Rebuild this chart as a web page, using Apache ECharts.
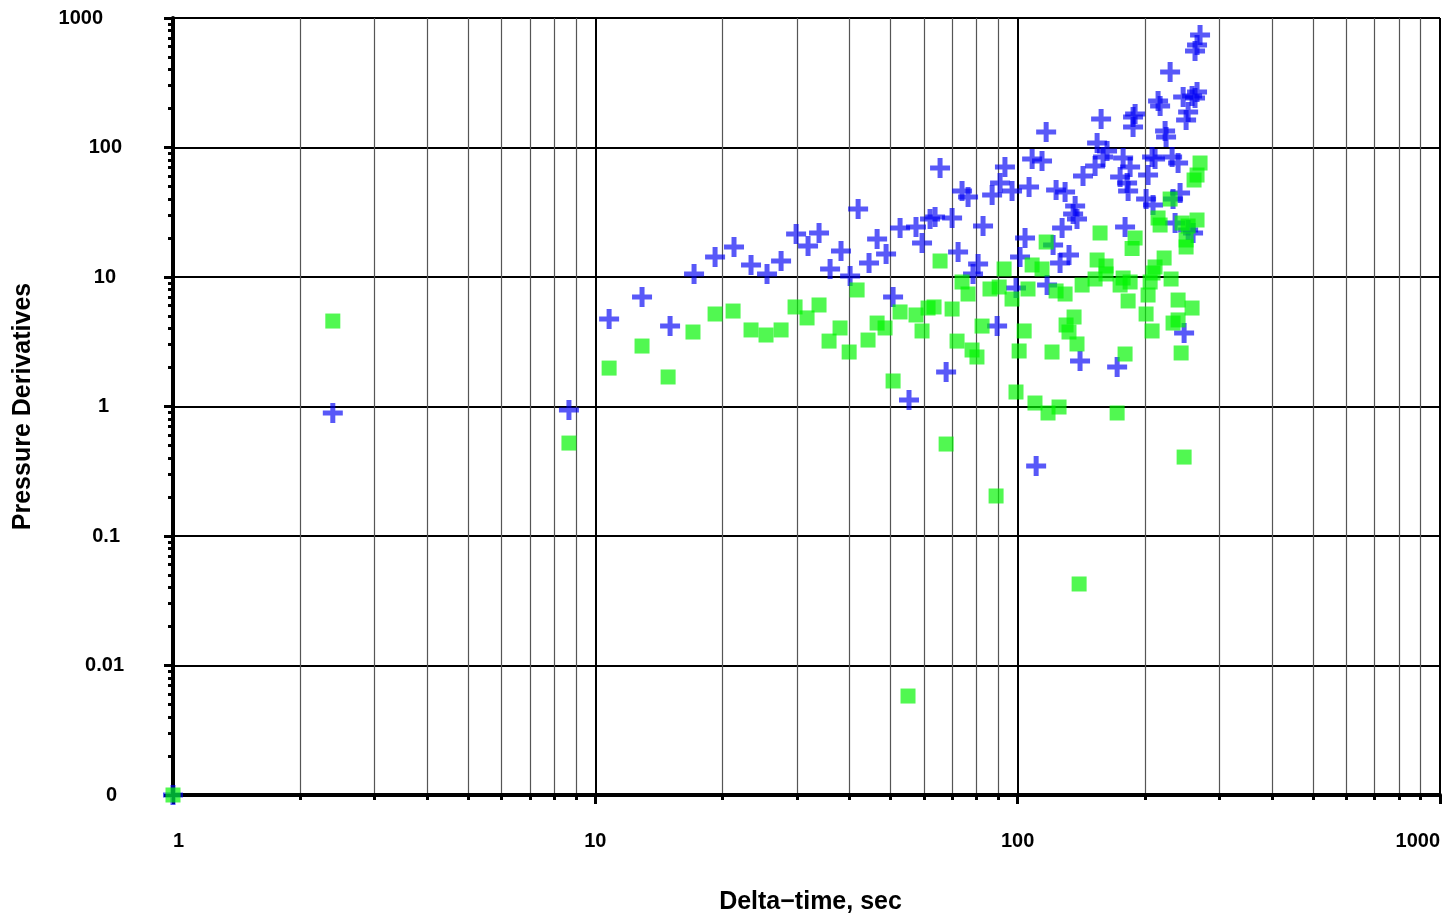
<!DOCTYPE html>
<html><head><meta charset="utf-8">
<script src="https://cdn.jsdelivr.net/npm/echarts@6/dist/echarts.min.js"></script>
<style>html,body{margin:0;padding:0;background:#fff}#c{width:1454px;height:921px}</style>
</head><body><div id="c"></div>
<script>
// ---- data (Delta-time in sec, derivative values) ----
const blueTime = [1,2.39,8.66,10.78,12.9,15.03,17.13,19.21,21.3,23.37,25.5,27.53,29.88,31.89,33.86,38.17,35.96,40.11,41.9,44.47,46.47,48.8,50.7,52.67,57.45,55.3,59.37,62.02,63.74,65.5,67.7,69.94,72.26,73.84,76.3,78.4,80.6,82.8,87.0,89.4,90.85,93.3,96.98,99.1,101.3,104.1,106.4,108.2,114.2,110.6,116.8,117.4,121.3,123.3,126.0,127.4,129.5,132.3,136.8,135.3,138.2,140.5,142.8,152.5,154.2,157.6,159.3,162.8,172,174.8,177.7,179.6,181.6,182.6,184.6,187.6,189.7,187.6,201.4,203.6,208.1,211.5,209.2,215,217.4,223.4,224.6,229.6,232.1,233.3,235.9,239.8,242.4,247.8,246.5,250.5,253.3,253.3,258.8,260.2,263,265.9,263,265.9,270.3];
const blueDeriv = [0.001,0.891,0.94,4.74,7.01,4.18,10.55,14.27,17.05,12.38,10.55,13.29,21.48,17.35,21.87,15.88,11.53,10.18,33.5,12.83,19.66,15.05,7.01,23.89,24.32,1.122,18.3,28.05,29.07,69.45,1.846,28.55,15.6,46.14,41.47,10.55,12.6,24.76,42.97,4.18,53.2,70.7,46.14,8.22,14.27,20.0,49.5,81.5,78.6,0.347,131.7,8.67,17.66,46.97,12.83,23.89,45.3,14.79,35.3,30.65,28.05,2.245,60.25,71.9,108.3,166,84.5,94,2.018,59.2,82.98,24.32,53.2,46.14,70.7,172,181.4,143.9,40,61.3,84.5,81.5,35.97,228.6,209.2,134.1,120.5,382.8,84.5,40,26.1,75.9,44.5,3.695,245.5,163.1,188,23.07,249.8,21.87,241.1,268.3,556.2,618.8,739.2];
const greenTime = [1,2.39,8.66,10.78,12.9,14.87,17.03,19.21,21.19,23.37,25.36,27.53,29.71,31.72,33.86,37.97,35.76,39.9,41.67,44.23,46.47,48.53,50.7,52.67,57.45,55.0,59.37,61.35,63.39,65.5,67.7,69.94,71.86,73.84,76.3,77.98,80.1,82.35,86.0,88.9,90.4,92.87,96.98,99.1,100.8,103.6,105.8,108.2,109.9,114.2,116.8,118.0,120.6,123.3,125.3,129.5,130.2,132.3,136.0,138.2,139.8,142.1,152.5,154.2,156.7,161.9,161.9,172.0,174.8,177.7,179.6,182.6,184.6,186.6,189.7,201.4,203.6,205.9,208.1,209.2,211.5,215.0,217.4,222.2,229.6,230.8,233.3,239.8,239.8,243.8,245.1,247.8,250.5,250.5,253.3,258.8,261.6,265.9,265.9,270.3];
const greenDeriv = [0.001,4.57,0.522,1.98,2.93,1.69,3.76,5.18,5.46,3.9,3.565,3.9,5.87,4.83,6.08,4.04,3.2,2.635,7.94,3.26,4.41,4.04,1.574,5.37,5.09,0.00581,3.83,5.76,5.87,13.29,0.513,5.66,3.2,9.15,7.39,2.731,2.411,4.18,8.08,0.2037,8.37,11.53,6.76,1.294,2.683,3.83,8.08,12.38,1.064,11.53,18.63,0.891,2.635,7.8,0.991,7.39,4.26,3.76,4.91,3.04,0.0426,8.67,9.65,13.53,21.87,12.16,10.55,0.891,8.67,9.82,2.543,6.53,9.15,16.6,20.0,5.18,7.26,9.15,3.83,10.74,11.95,28.55,25.2,14.02,40.0,9.65,4.41,4.66,6.64,2.59,26.1,0.407,19.31,17.05,24.76,5.76,56.1,61.3,27.55,75.9];
// tick labels (by decade exponent)
const yTickExp = [-3,-2,-1,0,1,2,3];
const yTickLabels = ['0','0.01','0.1','1','10','100','1000'];
const xTickExp = [0,1,2,3];
const xTickLabels = ['1','10','100','1000'];
const xTitle = 'Delta\u2212time, sec';
const yTitle = 'Pressure Derivatives';

const zip = (a, b) => a.map((v, i) => [v, b[i]]);
const FONT = 'Liberation Sans, Arial, sans-serif';
const padR = {'1000': 21, '100': 2, '10': 8, '1': 15, '0.1': 4, '0.01': 0, '0': 7};
const rich = {};
yTickLabels.forEach((t, i) => { rich['r' + i] = {fontSize: 20, fontWeight: 'bold', fontFamily: FONT, color: '#000', padding: [0, padR[t], 0, 0]}; });

const chart = echarts.init(document.getElementById('c'), null, {renderer: 'canvas'});
chart.setOption({
  backgroundColor: '#fff',
  animation: false,
  grid: {left: 173, right: 14, top: 18, bottom: 126, containLabel: false},
  xAxis: {
    type: 'log', logBase: 10, min: 1, max: 1000,
    name: xTitle, nameLocation: 'middle', nameGap: 95,
    nameTextStyle: {fontSize: 25, fontWeight: 'bold', fontFamily: FONT, color: '#000', padding: [0, 0, 0, 8]},
    axisLine: {show: true, onZero: false, lineStyle: {color: '#000', width: 4}},
    axisTick: {show: true, inside: false, length: 9, lineStyle: {color: '#000', width: 3}},
    minorTick: {show: true, splitNumber: 9, length: 5, lineStyle: {color: '#000', width: 3}},
    splitLine: {show: true, lineStyle: {color: '#000', width: 2}},
    minorSplitLine: {show: true, lineStyle: {color: '#555', width: 1.2}},
    axisLabel: {
      margin: 36, fontSize: 20, fontWeight: 'bold', fontFamily: FONT, color: '#000',
      alignMinLabel: 'left', alignMaxLabel: 'right',
      formatter: v => { const e = Math.round(Math.log10(v)); const k = xTickExp.indexOf(e); return k >= 0 ? xTickLabels[k] : ''; }
    }
  },
  yAxis: {
    type: 'log', logBase: 10, min: 0.001, max: 1000,
    name: yTitle, nameLocation: 'middle', nameGap: 137, nameRotate: 90,
    nameTextStyle: {fontSize: 25, fontWeight: 'bold', fontFamily: FONT, color: '#000'},
    axisLine: {show: true, onZero: false, lineStyle: {color: '#000', width: 4}},
    axisTick: {show: true, inside: false, length: 9, lineStyle: {color: '#000', width: 3}},
    minorTick: {show: true, splitNumber: 9, length: 5, lineStyle: {color: '#000', width: 3}},
    splitLine: {show: true, lineStyle: {color: '#000', width: 2}},
    minorSplitLine: {show: false},
    axisLabel: {
      margin: 49, align: 'right', fontSize: 20, fontWeight: 'bold', fontFamily: FONT, color: '#000',
      rich: rich,
      formatter: v => { const e = Math.round(Math.log10(v)); const k = yTickExp.indexOf(e); return k >= 0 ? '{r' + k + '|' + yTickLabels[k] + '}' : ''; }
    }
  },
  series: [
    {
      name: 'Blue derivative', type: 'scatter', clip: false,
      symbol: 'path://M3,0h2v3h3v2h-3v3h-2v-3h-3v-2h3z', symbolSize: 20,
      itemStyle: {color: 'rgba(0,0,245,0.82)'},
      data: zip(blueTime, blueDeriv), z: 2
    },
    {
      name: 'Green derivative', type: 'scatter', clip: false,
      symbol: 'rect', symbolSize: 15,
      itemStyle: {color: 'rgba(0,245,0,0.85)'},
      data: zip(greenTime, greenDeriv), z: 3
    }
  ]
});
</script></body></html>
